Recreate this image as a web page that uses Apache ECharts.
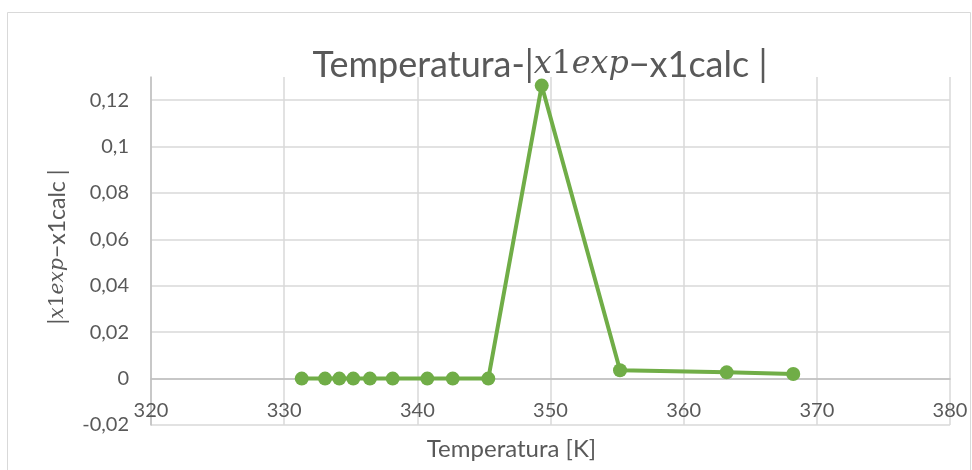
<!DOCTYPE html>
<html>
<head>
<meta charset="utf-8">
<title>Temperatura</title>
<script src="https://cdn.jsdelivr.net/npm/echarts@6/dist/echarts.min.js"></script>
<style>
  html, body { margin: 0; padding: 0; background: #ffffff; }
  #chart { width: 972px; height: 470px; }
</style>
</head>
<body>
<div id="chart"></div>
<script>
// Temperature [K] of each measurement
const temperature = [331.32, 333.07, 334.14, 335.19, 336.44, 338.15, 340.75, 342.66, 345.33, 349.34, 355.22, 363.23, 368.23];
// Absolute deviation |x1exp − x1calc|
const deviation = [0, 0, 0, 0, 0, 0, 0, 0, 0, 0.1263, 0.0036, 0.0027, 0.002];

// Axis settings
const xTicks = { min: 320, max: 380, step: 10 };
const yTicks = { min: -0.02, max: 0.13, step: 0.02 };

const textColor = '#595959';
const font = 'Lato, "Open Sans", sans-serif';
const green = '#70ad47';

const chart = echarts.init(document.getElementById('chart'), null, { renderer: 'canvas' });

const fmtComma = v => {
  const n = parseFloat(Number(v).toFixed(4));
  return String(n).replace('.', ',');
};

const mathRich = {
  n: { fontFamily: font, color: textColor, fontWeight: 'normal' },
  i: { fontFamily: '"DejaVu Serif", "Liberation Serif", serif', fontStyle: 'italic', fontWeight: 'normal', color: textColor },
  d: { fontFamily: '"DejaVu Serif", "Liberation Serif", serif', fontWeight: 'normal', color: textColor }
};

function richSet(size) {
  const r = {};
  Object.keys(mathRich).forEach(k => {
    r[k] = Object.assign({}, mathRich[k], { fontSize: k === 'n' ? size : size * 0.88 });
  });
  return r;
}

// Distance of the zero line above the bottom edge of the plot
const plotTop = 77, plotBottom = 425;
const zeroLift = (plotBottom - plotTop) * (0 - yTicks.min) / (yTicks.max - yTicks.min);

chart.setOption({
  animation: false,
  backgroundColor: '#ffffff',
  graphic: [{
    type: 'rect',
    shape: { x: 7.5, y: 12.5, width: 963, height: 470 },
    style: { fill: 'none', stroke: '#d9d9d9', lineWidth: 1 },
    silent: true
  }],
  title: {
    text: '{n|Temperatura-|}{i|x}{d|1}{i|exp}{n|−x1calc |}',
    left: 535,
    top: 42,
    textAlign: 'center',
    textStyle: { fontWeight: 'normal', rich: richSet(36) }
  },
  grid: { left: 151, right: 22, top: plotTop, bottom: 470 - plotBottom, containLabel: false, outerBoundsMode: 'none' },
  xAxis: {
    type: 'value',
    min: xTicks.min,
    max: xTicks.max,
    interval: xTicks.step,
    position: 'bottom',
    offset: -zeroLift,
    name: 'Temperatura [K]',
    nameLocation: 'middle',
    nameGap: 59,
    nameTextStyle: { color: textColor, fontFamily: font, fontSize: 24, padding: [0, 78, 0, 0] },
    axisLine: { show: true, onZero: false, lineStyle: { color: '#bfbfbf', width: 1.5 } },
    axisTick: { show: false },
    axisLabel: { color: textColor, fontFamily: font, fontSize: 20, margin: 22 },
    splitLine: { show: true, lineStyle: { color: '#d9d9d9', width: 1.5 } }
  },
  yAxis: {
    type: 'value',
    min: yTicks.min,
    max: yTicks.max,
    interval: yTicks.step,
    name: '{n||}{i|x}{d|1}{i|exp}{n|−x1calc |}',
    nameLocation: 'middle',
    nameRotate: 90,
    nameGap: 82,
    nameTextStyle: { rich: richSet(23), padding: [0, 0, 0, 8] },
    axisLine: { show: true, lineStyle: { color: '#bfbfbf', width: 1.5 } },
    axisTick: { show: false },
    axisLabel: {
      color: textColor, fontFamily: font, fontSize: 20, margin: 22,
      showMaxLabel: false,
      formatter: fmtComma
    },
    splitLine: { show: true, showMaxLine: false, lineStyle: { color: '#d9d9d9', width: 1.5 } }
  },
  series: [{
    type: 'line',
    data: temperature.map((t, i) => [t, deviation[i]]),
    symbol: 'circle',
    symbolSize: 14,
    lineStyle: { color: green, width: 4 },
    itemStyle: { color: green },
    z: 5
  }]
});
</script>
</body>
</html>
